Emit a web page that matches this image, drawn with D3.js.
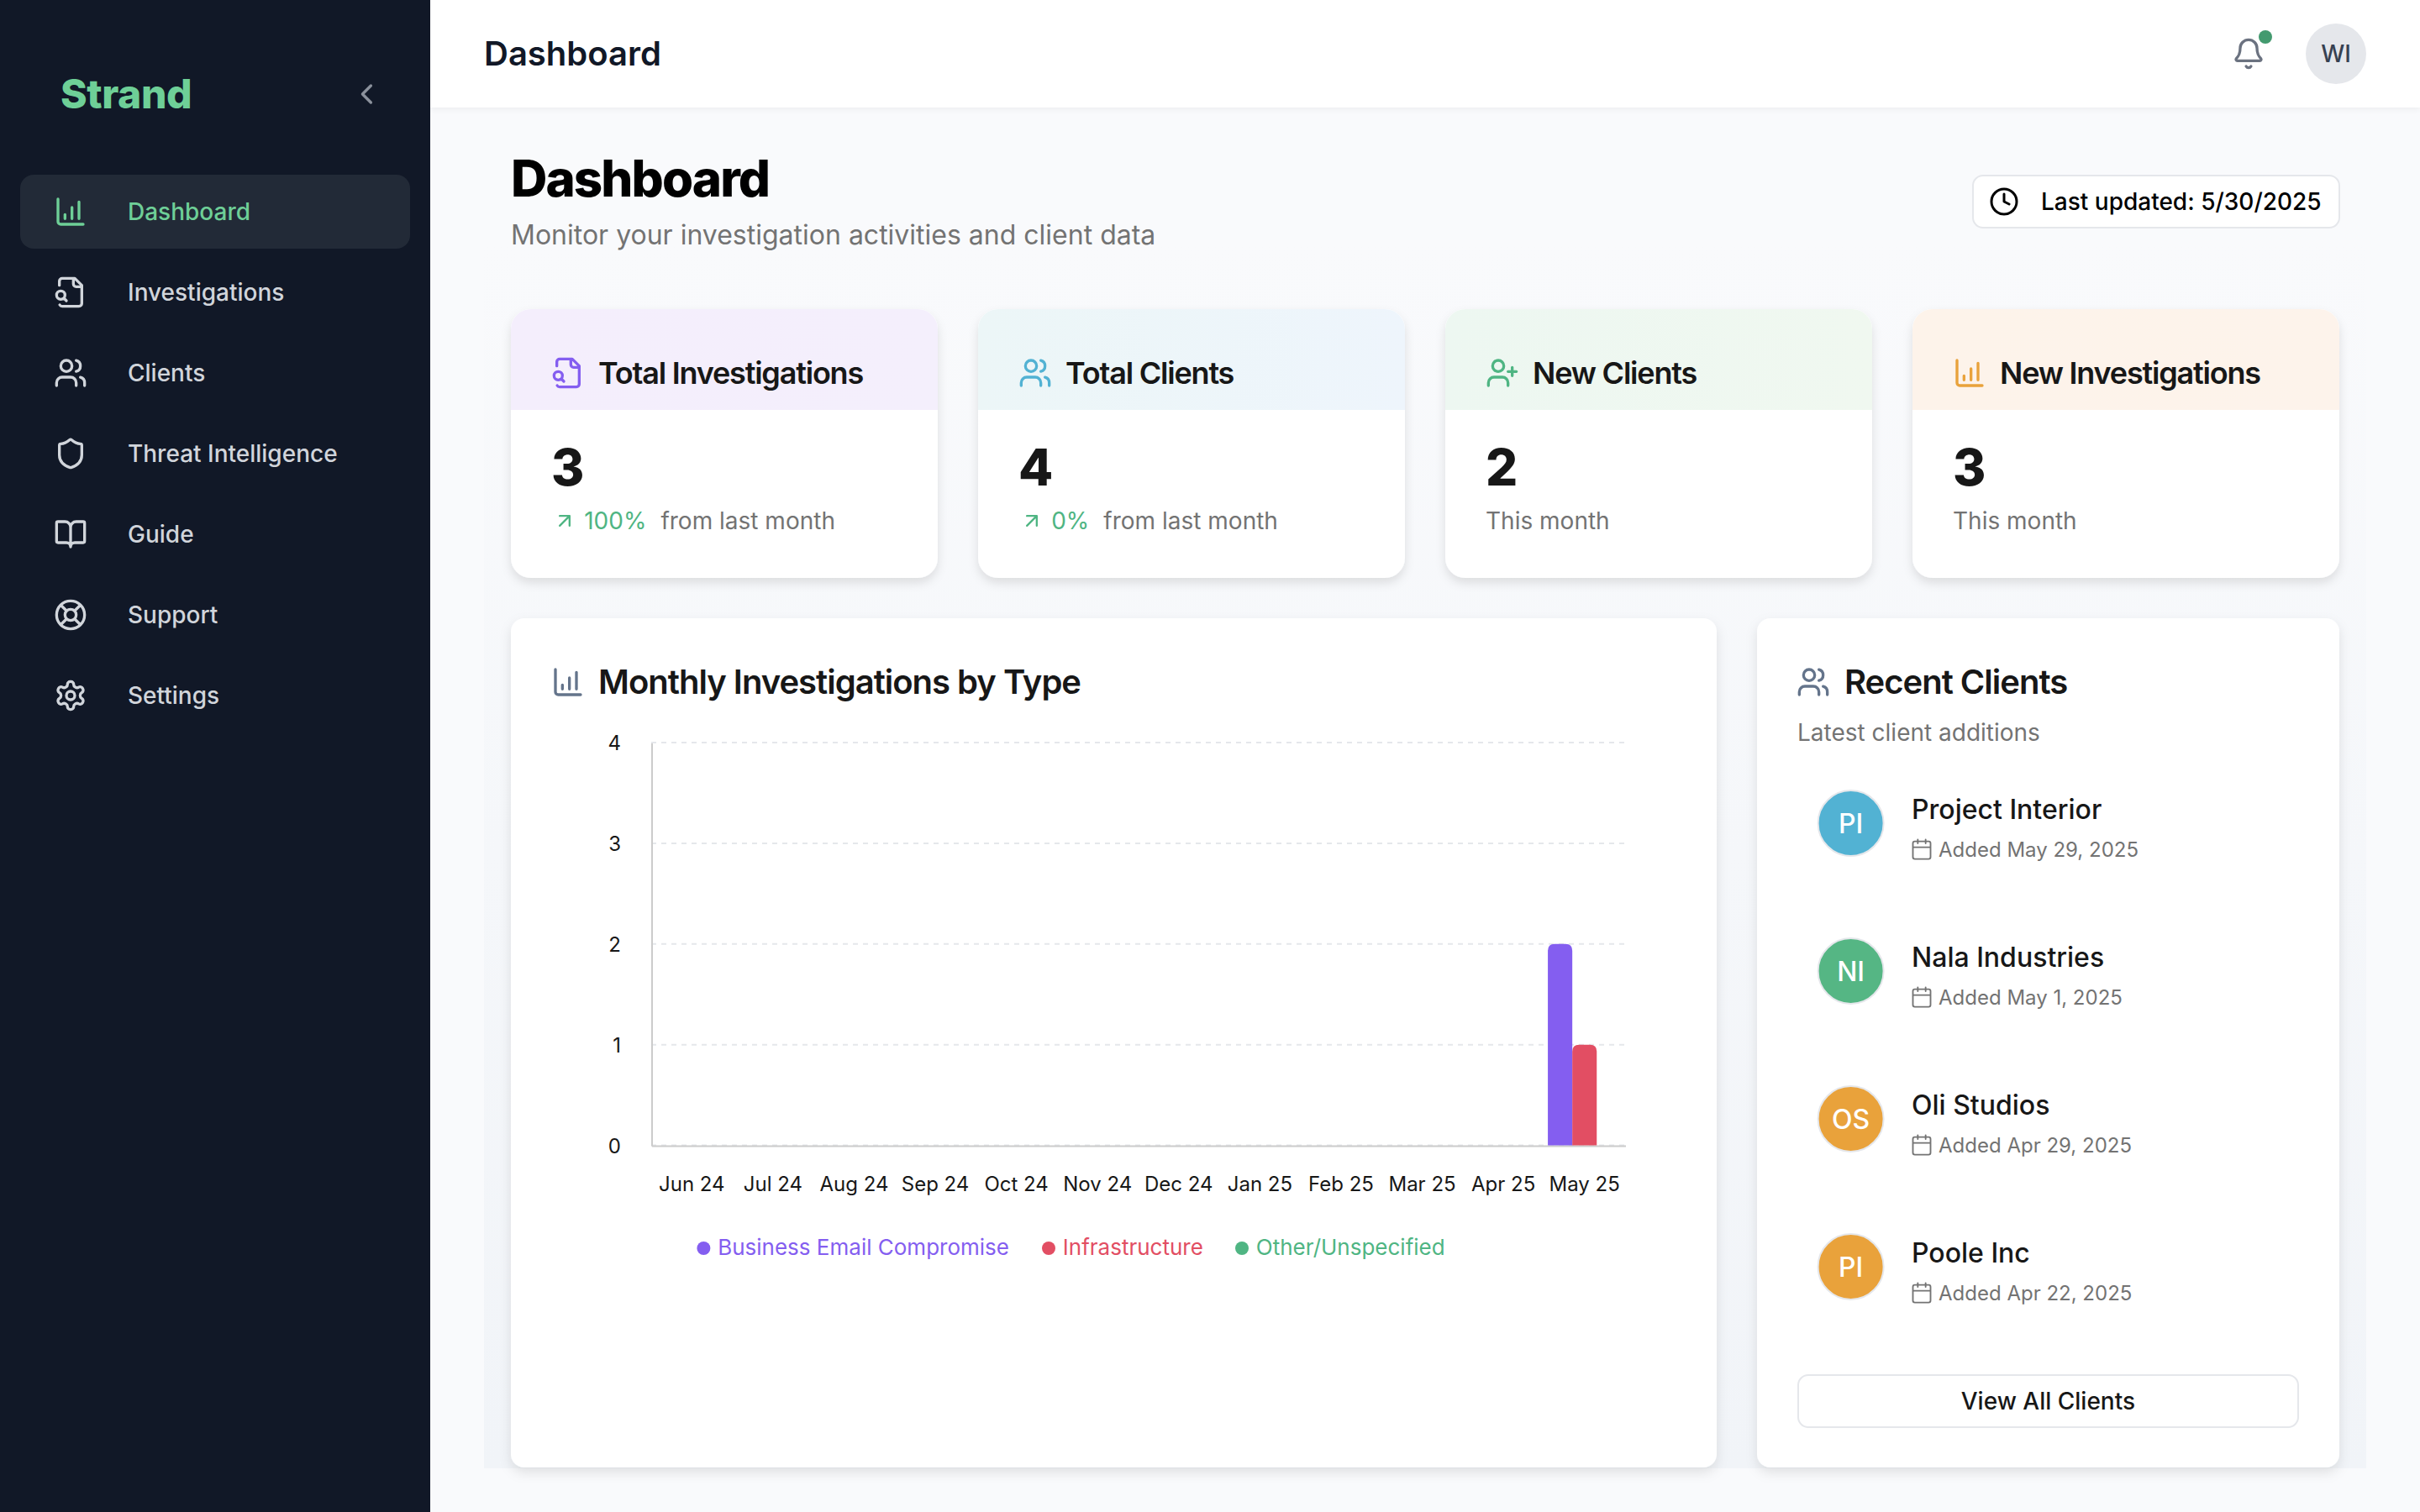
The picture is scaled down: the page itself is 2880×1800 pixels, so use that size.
<!DOCTYPE html>
<html><head><meta charset="utf-8">
<script src="https://cdn.jsdelivr.net/npm/d3@7/dist/d3.min.js"></script>
<style>
html,body{margin:0;padding:0;background:#f9fafc;overflow:hidden}
svg{display:block;font-family:Inter,sans-serif}
</style></head><body><div id="root"></div>
<script>
const months=["Jun 24","Jul 24","Aug 24","Sep 24","Oct 24","Nov 24","Dec 24","Jan 25","Feb 25","Mar 25","Apr 25","May 25"];
const seriesNames=["Business Email Compromise","Infrastructure","Other/Unspecified"];
const seriesColors=["#845ef0","#e24e63","#4fb583"];
const businessEmail=[0,0,0,0,0,0,0,0,0,0,0,2];
const infrastructure=[0,0,0,0,0,0,0,0,0,0,0,1];
const otherUnspecified=[0,0,0,0,0,0,0,0,0,0,0,0];
const yTicks=[0,1,2,3,4];
const navLabels=["Dashboard","Investigations","Clients","Threat Intelligence","Guide","Support","Settings"];
const statTitles=["Total Investigations","Total Clients","New Clients","New Investigations"];
const statValues=["3","4","2","3"];
const statDelta=["100%","0%",null,null];
const statNotes=["from last month","from last month","This month","This month"];
const clientNames=["Project Interior","Nala Industries","Oli Studios","Poole Inc"];
const clientInitials=["PI","NI","OS","PI"];
const clientDates=["Added May 29, 2025","Added May 1, 2025","Added Apr 29, 2025","Added Apr 22, 2025"];
const clientColors=["#52b2d3","#55b684","#e9a23b","#e9a23b"];

const I={
 chart:'M3 3v16a2 2 0 0 0 2 2h16M8 17v-3M13 17V9M18 17V5',
 file:'M14 2v4a2 2 0 0 0 2 2h4M4.268 21a2 2 0 0 0 1.727 1H18a2 2 0 0 0 2-2V7l-5-5H6a2 2 0 0 0-2 2v3M9 18l-1.5-1.5M8 14a3 3 0 1 1-6 0 3 3 0 0 1 6 0z',
 users:'M16 21v-2a4 4 0 0 0-4-4H6a4 4 0 0 0-4 4v2M16 3.128a4 4 0 0 1 0 7.744M22 21v-2a4 4 0 0 0-3-3.87M13 7a4 4 0 1 1-8 0 4 4 0 0 1 8 0z',
 userplus:'M16 21v-2a4 4 0 0 0-4-4H6a4 4 0 0 0-4 4v2M19 8v6M22 11h-6M13 7a4 4 0 1 1-8 0 4 4 0 0 1 8 0z',
 shield:'M20 13c0 5-3.5 7.5-7.66 8.95a1 1 0 0 1-.67-.01C7.5 20.5 4 18 4 13V6a1 1 0 0 1 1-1c2 0 4.5-1.2 6.24-2.72a1.17 1.17 0 0 1 1.52 0C14.51 3.81 17 5 19 5a1 1 0 0 1 1 1z',
 book:'M12 7v14M3 18a1 1 0 0 1-1-1V4a1 1 0 0 1 1-1h5a4 4 0 0 1 4 4 4 4 0 0 1 4-4h5a1 1 0 0 1 1 1v13a1 1 0 0 1-1 1h-6a3 3 0 0 0-3 3 3 3 0 0 0-3-3z',
 life:'M22 12a10 10 0 1 1-20 0 10 10 0 0 1 20 0zM16 12a4 4 0 1 1-8 0 4 4 0 0 1 8 0zM4.93 4.93l4.24 4.24M14.83 9.17l4.24-4.24M14.83 14.83l4.24 4.24M9.17 14.83l-4.24 4.24',
 gear:'M12.22 2h-.44a2 2 0 0 0-2 2v.18a2 2 0 0 1-1 1.73l-.43.25a2 2 0 0 1-2 0l-.15-.08a2 2 0 0 0-2.73.73l-.22.38a2 2 0 0 0 .73 2.73l.15.1a2 2 0 0 1 1 1.72v.51a2 2 0 0 1-1 1.74l-.15.09a2 2 0 0 0-.73 2.73l.22.38a2 2 0 0 0 2.73.73l.15-.08a2 2 0 0 1 2 0l.43.25a2 2 0 0 1 1 1.73V20a2 2 0 0 0 2 2h.44a2 2 0 0 0 2-2v-.18a2 2 0 0 1 1-1.73l.43-.25a2 2 0 0 1 2 0l.15.08a2 2 0 0 0 2.73-.73l.22-.39a2 2 0 0 0-.73-2.73l-.15-.08a2 2 0 0 1-1-1.74v-.5a2 2 0 0 1 1-1.74l.15-.09a2 2 0 0 0 .73-2.73l-.22-.38a2 2 0 0 0-2.73-.73l-.15.08a2 2 0 0 1-2 0l-.43-.25a2 2 0 0 1-1-1.73V4a2 2 0 0 0-2-2zM15 12a3 3 0 1 1-6 0 3 3 0 0 1 6 0z',
 bell:'M10.268 21a2 2 0 0 0 3.464 0M3.262 15.326A1 1 0 0 0 4 17h16a1 1 0 0 0 .74-1.673C19.41 13.956 18 12.499 18 8A6 6 0 0 0 6 8c0 4.499-1.411 5.956-2.738 7.326',
 clock:'M22 12a10 10 0 1 1-20 0 10 10 0 0 1 20 0zM12 6v6l4 2',
 cal:'M8 2v4M16 2v4M5 4h14a2 2 0 0 1 2 2v14a2 2 0 0 1-2 2H5a2 2 0 0 1-2-2V6a2 2 0 0 1 2-2zM3 10h18',
 up:'M7 7h10v10M7 17 17 7',
 left:'m15 18-6-6 6-6'
};
const svg=d3.select("#root").append("svg").attr("width",2880).attr("height",1800).attr("viewBox","0 0 1440 900");
const defs=svg.append("defs");
function shadow(id,dy,std,op){
 const f=defs.append("filter").attr("id",id).attr("x","-10%").attr("y","-10%").attr("width","120%").attr("height","125%");
 f.append("feDropShadow").attr("dx",0).attr("dy",dy).attr("stdDeviation",std).attr("flood-color","#000").attr("flood-opacity",op);
}
shadow("cardS",3,3,0.11);shadow("panelS",3,3.5,0.1);shadow("headS",1,1.5,0.05);
const headGrads=[["#f4eefc","#f4effc"],["#ecf6f7","#eef5fc"],["#edf7f1","#f0f8f0"],["#fdf3ea","#fdf3eb"]];
headGrads.forEach((g,i)=>{const lg=defs.append("linearGradient").attr("id","hg"+i);lg.append("stop").attr("offset",0).attr("stop-color",g[0]);lg.append("stop").attr("offset",1).attr("stop-color",g[1]);
 defs.append("clipPath").attr("id","cc"+i).append("rect").attr("x",304+278*i).attr("y",184).attr("width",254).attr("height",160).attr("rx",12);});
const bgG=defs.append("linearGradient").attr("id","bgFade").attr("x1",0).attr("x2",0).attr("y1",0).attr("y2",1);
bgG.append("stop").attr("offset",0).attr("stop-color","#f9fafc");
bgG.append("stop").attr("offset",1).attr("stop-color","#f1f4f8");
function icon(p,name,x,y,size,color,sw){
 return p.append("path").attr("d",I[name]).attr("transform",`translate(${x},${y}) scale(${size/24})`).attr("fill","none").attr("stroke",color).attr("stroke-width",sw||2).attr("stroke-linecap","round").attr("stroke-linejoin","round");
}
function text(p,s,x,y,size,weight,color,opt){
 opt=opt||{};
 return p.append("text").text(s).attr("x",x).attr("y",y).attr("font-size",size).attr("font-weight",weight).attr("fill",color).attr("dominant-baseline","central").attr("text-anchor",opt.anchor||"start").attr("letter-spacing",opt.ls||null);
}
// page + sidebar
svg.append("rect").attr("width",1440).attr("height",900).attr("fill","#f9fafc");
svg.append("rect").attr("x",288).attr("y",145).attr("width",1120).attr("height",729).attr("fill","url(#bgFade)");
svg.append("rect").attr("x",0).attr("y",0).attr("width",256).attr("height",900).attr("fill","#111827");
text(svg,"Strand",36,55.7,24,800,"#6ecf97",{ls:"-0.2"});
icon(svg,"left",208.2,46,20,"#8b919c");
svg.append("rect").attr("x",12).attr("y",104).attr("width",232).attr("height",44).attr("rx",8).attr("fill","#222a37");
const navIcons=["chart","file","users","shield","book","life","gear"];
const navY=d3.scalePoint().domain(navLabels).range([126,414]);
navLabels.forEach((n,i)=>{
 const c=i===0?"#6ecf97":"#d1d5db";
 icon(svg,navIcons[i],32,navY(n)-10,20,c);
 text(svg,n,76,navY(n)-0.2,14,500,c);
});
// header
svg.append("rect").attr("x",256).attr("y",0).attr("width",1184).attr("height",64).attr("fill","#fff").attr("filter","url(#headS)");
text(svg,"Dashboard",288,31.5,20,600,"#111827");
icon(svg,"bell",1328,22,20,"#6b7280");
svg.append("circle").attr("cx",1348).attr("cy",22).attr("r",4).attr("fill","#439a6f");
svg.append("circle").attr("cx",1390).attr("cy",32).attr("r",18).attr("fill","#e5e7eb");
text(svg,"WI",1390,32,14,500,"#374151",{anchor:"middle"});
// page head
text(svg,"Dashboard",304,105.8,30,800,"#000",{ls:"-0.95"});
text(svg,"Monitor your investigation activities and client data",304,139.5,16,400,"#737373");
svg.append("rect").attr("x",1174).attr("y",104.5).attr("width",218).attr("height",31).attr("rx",6).attr("fill","#fff").attr("stroke","#e5e7eb");
icon(svg,"clock",1183.5,111,18,"#000");
text(svg,"Last updated: 5/30/2025",1214.5,120,14,500,"#000");
// stat cards
const statIcons=["file","users","userplus","chart"];
const statIconCol=["#845ef0","#52b2d3","#4fb583","#e9a23b"];
const stepX=d3.scalePoint().domain(statTitles).range([304,1138]);
statTitles.forEach((t,i)=>{
 const x=stepX(t);
 svg.append("rect").attr("x",x).attr("y",184).attr("width",254).attr("height",160).attr("rx",12).attr("fill","#fff").attr("filter","url(#cardS)");
 svg.append("rect").attr("x",x).attr("y",184).attr("width",254).attr("height",60).attr("fill",`url(#hg${i})`).attr("clip-path",`url(#cc${i})`);
 icon(svg,statIcons[i],x+24,212,20,statIconCol[i]);
 text(svg,t,x+52,222,18,600,"#171717",{ls:"-0.6"});
 text(svg,statValues[i],x+24,278,30,800,"#171717");
 if(statDelta[i]){
  icon(svg,"up",x+25,303,14,"#4fb583");
  const d=text(svg,statDelta[i],x+43.6,310,14,400,"#4fb583");
  const w=d.node().getComputedTextLength();
  text(svg,statNotes[i],x+43.6+w+8.5,310,14,400,"#737373");
 } else text(svg,statNotes[i],x+24,310,14,400,"#737373");
});
// panels
svg.append("rect").attr("x",304).attr("y",368).attr("width",717.5).attr("height",505.5).attr("rx",8).attr("fill","#fff").attr("filter","url(#panelS)");
svg.append("rect").attr("x",1045.5).attr("y",368).attr("width",346.5).attr("height",505.5).attr("rx",8).attr("fill","#fff").attr("filter","url(#panelS)");
icon(svg,"chart",328,396,20,"#64748b");
text(svg,"Monthly Investigations by Type",356,405.7,20,600,"#171717",{ls:"-0.5"});
// chart
const plot={l:387.5,r:967,t:442,b:681.8};
const x0=d3.scaleBand().domain(months).range([plot.l,plot.r]);
const x1=d3.scaleBand().domain(seriesNames).range([0,x0.bandwidth()]).paddingInner(0).paddingOuter(0.16);
const y=d3.scaleLinear().domain([0,4]).range([plot.b,plot.t]);
const g=svg.append("g");
g.append("g").selectAll("line").data(yTicks).join("line").attr("x1",plot.l).attr("x2",plot.r).attr("y1",d=>y(d)).attr("y2",d=>y(d)).attr("stroke","#e5e7eb").attr("stroke-width",1).attr("stroke-dasharray","3 3");
const ax=g.append("g").attr("transform",`translate(0,${plot.b})`).call(d3.axisBottom(x0).tickSize(0).tickPadding(18.7));
const ay=g.append("g").attr("transform",`translate(${plot.l},0)`).call(d3.axisLeft(y).tickValues(yTicks).tickFormat(d3.format("d")).tickSize(0).tickPadding(18));
[ax,ay].forEach(a=>{a.select(".domain").attr("stroke","#ccc").attr("stroke-width",1);a.selectAll("text").attr("font-size",12).attr("font-family","Inter,sans-serif").attr("fill","#171717");});
ay.selectAll("text").attr("dy","0.34em");
const seriesData=[businessEmail,infrastructure,otherUnspecified];
function topRound(x,w,yt,yb,r){r=Math.min(r,w/2,yb-yt);return `M${x},${yb}V${yt+r}Q${x},${yt} ${x+r},${yt}H${x+w-r}Q${x+w},${yt} ${x+w},${yt+r}V${yb}Z`;}
seriesData.forEach((vals,si)=>{
 g.append("g").selectAll("path").data(vals.map((v,i)=>({v,m:months[i]})).filter(d=>d.v>0)).join("path")
  .attr("d",d=>topRound(x0(d.m)+x1(seriesNames[si]),x1.bandwidth(),y(d.v),y(0),4)).attr("fill",seriesColors[si]);
});
// legend
const legCx=[418.7,624,739];
seriesNames.forEach((n,i)=>{
 svg.append("circle").attr("cx",legCx[i]).attr("cy",743).attr("r",4).attr("fill",seriesColors[i]);
 text(svg,n,legCx[i]+8.4,742.2,13,400,seriesColors[i]);
});
// recent clients
icon(svg,"users",1069,396,20,"#64748b");
text(svg,"Recent Clients",1097.5,405.7,20,600,"#171717",{ls:"-0.5"});
text(svg,"Latest client additions",1069.5,436,14,400,"#737373");
const rowY=d3.scalePoint().domain(clientNames).range([490,754]);
clientNames.forEach((n,i)=>{
 const cy=rowY(n);
 svg.append("circle").attr("cx",1101.3).attr("cy",cy).attr("r",19.5).attr("fill",clientColors[i]).attr("stroke","#e5e7eb").attr("stroke-width",1);
 text(svg,clientInitials[i],1101.3,cy,16,500,"#fff",{anchor:"middle"});
 text(svg,n,1137.5,cy-8.5,16,500,"#171717");
 icon(svg,"cal",1136.5,cy+8.5,14,"#737373",1.6);
 text(svg,clientDates[i],1153.5,cy+15.5,12,400,"#737373");
});
svg.append("rect").attr("x",1070).attr("y",818.5).attr("width",297.5).attr("height",31).attr("rx",6).attr("fill","#fff").attr("stroke","#e5e7eb");
text(svg,"View All Clients",1218.7,834,14,500,"#171717",{anchor:"middle"});
</script></body></html>
